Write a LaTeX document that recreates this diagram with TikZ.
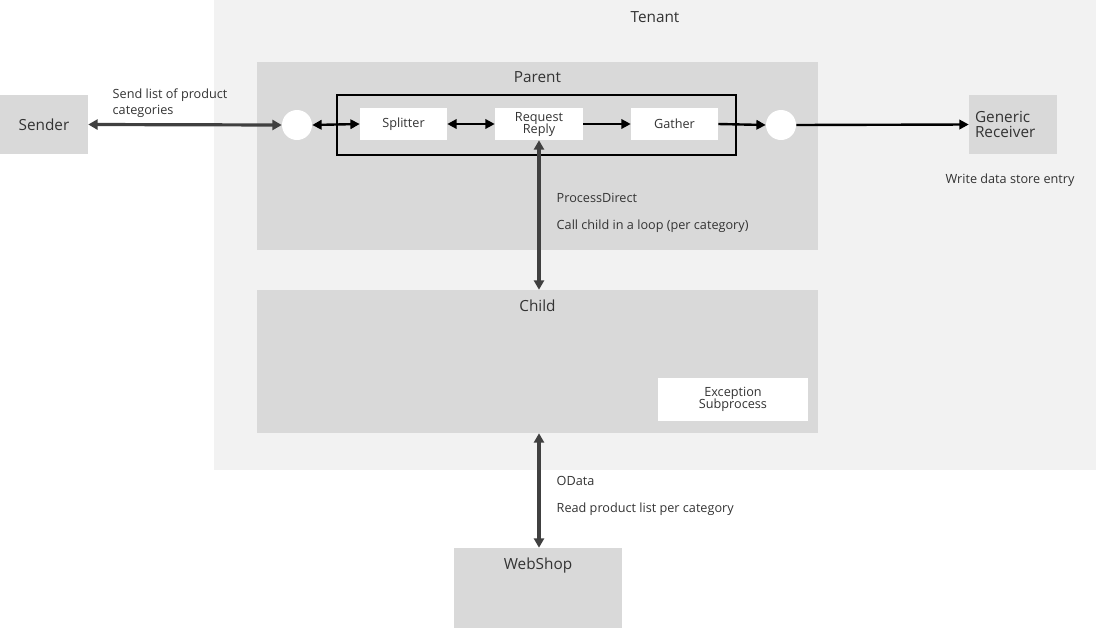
\documentclass[tikz,border=0pt]{standalone}
\usepackage{fontspec}
\setmainfont{Open Sans}
\usetikzlibrary{positioning}
\usetikzlibrary{arrows.meta}

\definecolor{tenantgray}{HTML}{F2F2F2}
\definecolor{boxgray}{HTML}{D9D9D9}
\definecolor{textgray}{HTML}{333333}
\definecolor{linkgray}{HTML}{404040}

\tikzset{
  area/.style={fill=boxgray, draw=none, inner sep=0pt},
  stepbox/.style={fill=white, draw=none, inner sep=0pt, align=center,
    font=\fontsize{9.5}{11}\selectfont, text=textgray},
  port/.style={circle, fill=white, draw=none, minimum size=22.5pt, inner sep=0pt},
  title/.style={font=\fontsize{11.5}{13}\selectfont, text=textgray},
  note/.style={font=\fontsize{9.5}{12}\selectfont, text=textgray, anchor=west, align=left},
  tip/.style={Triangle[length=7pt, width=7pt]},
  flow/.style={black, line width=1.8pt, -{Triangle[length=7pt, width=7pt]}},
  biflow/.style={black, line width=1.8pt, {Triangle[length=7pt, width=7pt]}-{Triangle[length=7pt, width=7pt]}},
  link/.style={linkgray, line width=2.4pt, {Triangle[length=7pt, width=7.5pt]}-{Triangle[length=7pt, width=7.5pt]}}
}

\begin{document}
\begin{tikzpicture}[x=0.75pt, y=-0.75pt]
  \useasboundingbox (0,0) rectangle (1096,629);

  % tenant and containers
  \node[fill=tenantgray, inner sep=0pt, minimum width=661.5pt, minimum height=352.5pt] (tenant) at (655,235) {};
  \node[title, anchor=north] at ([yshift=-5pt]tenant.north) {Tenant};

  \node[area, minimum width=420.75pt, minimum height=141pt] (parent) at (537.5,156) {};
  \node[title, anchor=north] at ([yshift=-4pt]parent.north) {Parent};

  \node[area, minimum width=420.75pt, minimum height=107.25pt] (child) at (537.5,361.5) {};
  \node[title, anchor=north] at ([yshift=-4pt]child.north) {Child};

  % outside systems
  \node[area, title, minimum width=66pt, minimum height=44.25pt] (sender) at (44,124.5) {Sender};
  \node[area, title, minimum width=66pt, minimum height=44.25pt, align=left, text width=57pt] (receiver) at (1013,124.5) {Generic\\[-2pt]Receiver};
  \node[area, minimum width=126pt, minimum height=60pt] (webshop) at (538,588) {};
  \node[title, anchor=north] at ([yshift=-4pt]webshop.north) {WebShop};

  % integration flow steps
  \node[draw=black, line width=0.8pt, minimum width=299.25pt, minimum height=45pt, inner sep=0pt] (loop) at (536.5,125) {};
  \node[stepbox, minimum width=65.25pt, minimum height=24pt] (splitter) at (403.5,124) {Splitter};
  \node[stepbox, minimum width=66pt, minimum height=24pt] (request) at (539,124) {Request\\[-2pt]Reply};
  \node[stepbox, minimum width=65.25pt, minimum height=24pt] (gather) at (674.5,124) {Gather};
  \node[stepbox, minimum width=112.5pt, minimum height=32.25pt] (exception) at (733,399.5) {Exception\\[-2pt]Subprocess};

  \node[port] (start) at (297,125) {};
  \node[port] (end) at (781,125) {};

  % connectors
  \draw[link] (sender.east) -- (start.west);
  \draw[biflow] (start.east) -- (splitter.west);
  \draw[biflow] (splitter.east) -- (request.west);
  \draw[flow] (request.east) -- (gather.west);
  \draw[flow] (gather.east) -- (end.west);
  \draw[flow] (end.east) -- (receiver.west);
  \draw[link] (request.south) -- (child.north -| request.south);
  \draw[link] (child.south -| request.south) -- (webshop.north -| request.south);

  % labels
  \node[note] at (108,103) {Send list of product\\categories};
  \node[note, anchor=center] at (1010,180) {Write data store entry};
  \node[note] at (552,198) {ProcessDirect};
  \node[note] at (552,226) {Call child in a loop (per category)};
  \node[note] at (552,481) {OData};
  \node[note] at (552,509) {Read product list per category};
\end{tikzpicture}
\end{document}
